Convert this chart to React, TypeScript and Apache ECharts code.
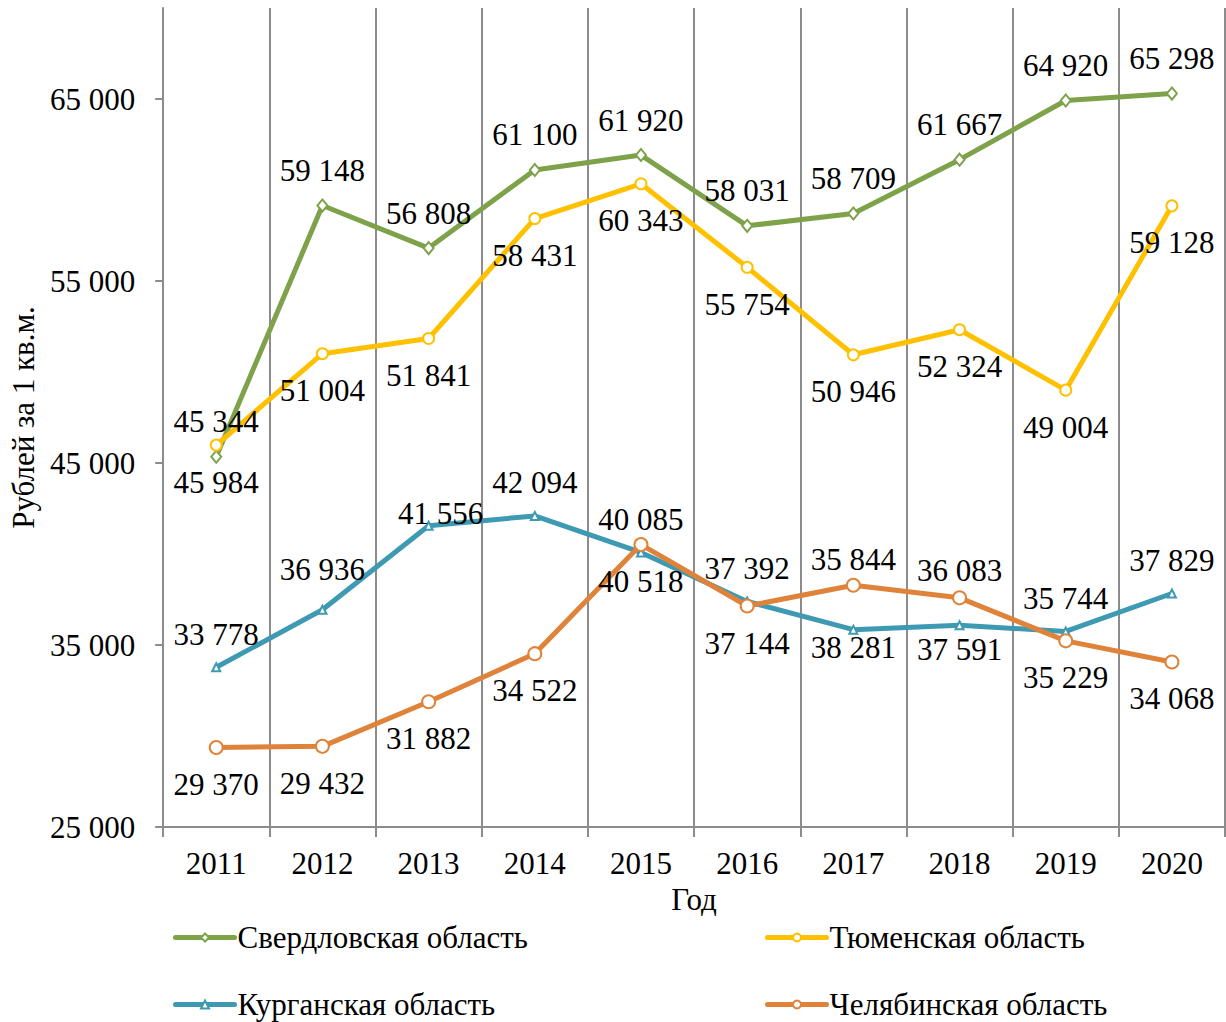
import React, { useEffect, useRef } from "react";
import * as echarts from "echarts";

const years = ["2011", "2012", "2013", "2014", "2015", "2016", "2017", "2018", "2019", "2020"];
const sverdlovsk = [45344, 59148, 56808, 61100, 61920, 58031, 58709, 61667, 64920, 65298];
const tyumen = [45984, 51004, 51841, 58431, 60343, 55754, 50946, 52324, 49004, 59128];
const kurgan = [33778, 36936, 41556, 42094, 40085, 37392, 35844, 36083, 35744, 37829];
const chelyabinsk = [29370, 29432, 31882, 34522, 40518, 37144, 38281, 37591, 35229, 34068];
const yTickValues = [25000, 35000, 45000, 55000, 65000];

const names = ["Свердловская область", "Тюменская область", "Курганская область", "Челябинская область"];

// label placement (offset of label centre from the point), styling only
const labelOffsets: Record<string, { def: [number, number]; special: Record<number, [number, number]> }> = {
  s: { def: [0, -35], special: {} },
  t: { def: [0, 37], special: {} },
  k: { def: [0, -33], special: { 1: [0, -40], 2: [12, -12], 6: [0, -70], 7: [0, -55] } },
  c: { def: [0, 37], special: { 5: [0, 38], 6: [0, 62], 7: [0, 52] } },
};

const FONT = "'Liberation Serif', 'Times New Roman', serif";
const fmt = (v: number) => String(v).replace(/\B(?=(\d{3})+(?!\d))/g, " ");

function build(values: number[], key: string) {
  const cfg = labelOffsets[key];
  return values.map((v, i) => ({
    value: v,
    label: { offset: cfg.special[i] || cfg.def },
  }));
}

function makeSeries(name: string, values: number[], key: string, color: string, symbol: string, size: number | number[]) {
  return {
    name,
    type: "line",
    data: build(values, key),
    symbol,
    symbolSize: size,
    showSymbol: true,
    lineStyle: { color, width: 5, cap: "round", join: "round" },
    itemStyle: { color: "#ffffff", borderColor: color, borderWidth: 2 },
    label: {
      show: true,
      position: "inside",
      color: "#000",
      fontFamily: FONT,
      fontSize: 31,
      formatter: (p: any) => fmt(p.value),
    },
    emphasis: { disabled: true },
  };
}

export default function App() {
  const ref = useRef<HTMLDivElement>(null);
  useEffect(() => {
    if (!ref.current) return;
    const chart = echarts.init(ref.current, null, { renderer: "svg" });
    const legendCommon = {
      itemWidth: 59,
      itemHeight: 10,
      itemGap: 0,
      padding: 0,
      lineStyle: { width: 5, cap: "round" },
      textStyle: { fontFamily: FONT, fontSize: 31, color: "#000", padding: [0, 0, 0, -2] },
    };
    chart.setOption({
      animation: false,
      grid: { left: 163, top: 8, right: 1, bottom: 195, containLabel: false },
      xAxis: {
        type: "category",
        data: years,
        boundaryGap: true,
        axisLine: { lineStyle: { color: "#8c8c8c", width: 2 } },
        axisTick: { show: true, length: 10, lineStyle: { color: "#8c8c8c", width: 2 } },
        splitLine: { show: true, lineStyle: { color: "#8c8c8c", width: 2 } },
        axisLabel: { color: "#000", fontFamily: FONT, fontSize: 31, margin: 21 },
        name: "Год",
        nameLocation: "middle",
        nameGap: 56,
        nameTextStyle: { color: "#000", fontFamily: FONT, fontSize: 31 },
      },
      yAxis: {
        type: "value",
        min: 25000,
        max: 70000,
        interval: 5000,
        axisLine: { show: true, lineStyle: { color: "#8c8c8c", width: 2 } },
        axisTick: { show: true, length: 8, customValues: yTickValues, lineStyle: { color: "#8c8c8c", width: 2 } },
        splitLine: { show: false },
        axisLabel: {
          color: "#000",
          fontFamily: FONT,
          fontSize: 31,
          margin: 28,
          customValues: yTickValues,
          formatter: (v: number) => fmt(v),
        },
        name: "Рублей за 1 кв.м.",
        nameLocation: "middle",
        nameGap: 117,
        nameTextStyle: { color: "#000", fontFamily: FONT, fontSize: 31 },
      },
      legend: [
        { ...legendCommon, data: [names[0]], left: 173, top: 922 },
        { ...legendCommon, data: [names[1]], left: 765, top: 922 },
        { ...legendCommon, data: [names[2]], left: 173, top: 989 },
        { ...legendCommon, data: [names[3]], left: 765, top: 989 },
      ],
      series: [
        makeSeries(names[0], sverdlovsk, "s", "#7DA24A", "diamond", [10, 12]),
        makeSeries(names[1], tyumen, "t", "#FFC000", "circle", 11),
        makeSeries(names[2], kurgan, "k", "#3E9AB2", "triangle", 8),
        makeSeries(names[3], chelyabinsk, "c", "#E0833A", "circle", 13),
      ],
    });
    return () => chart.dispose();
  }, []);
  return (
    <div
      ref={ref}
      style={{ position: "absolute", left: 0, top: 0, width: 1226, height: 1022, background: "#fff" }}
    />
  );
}
